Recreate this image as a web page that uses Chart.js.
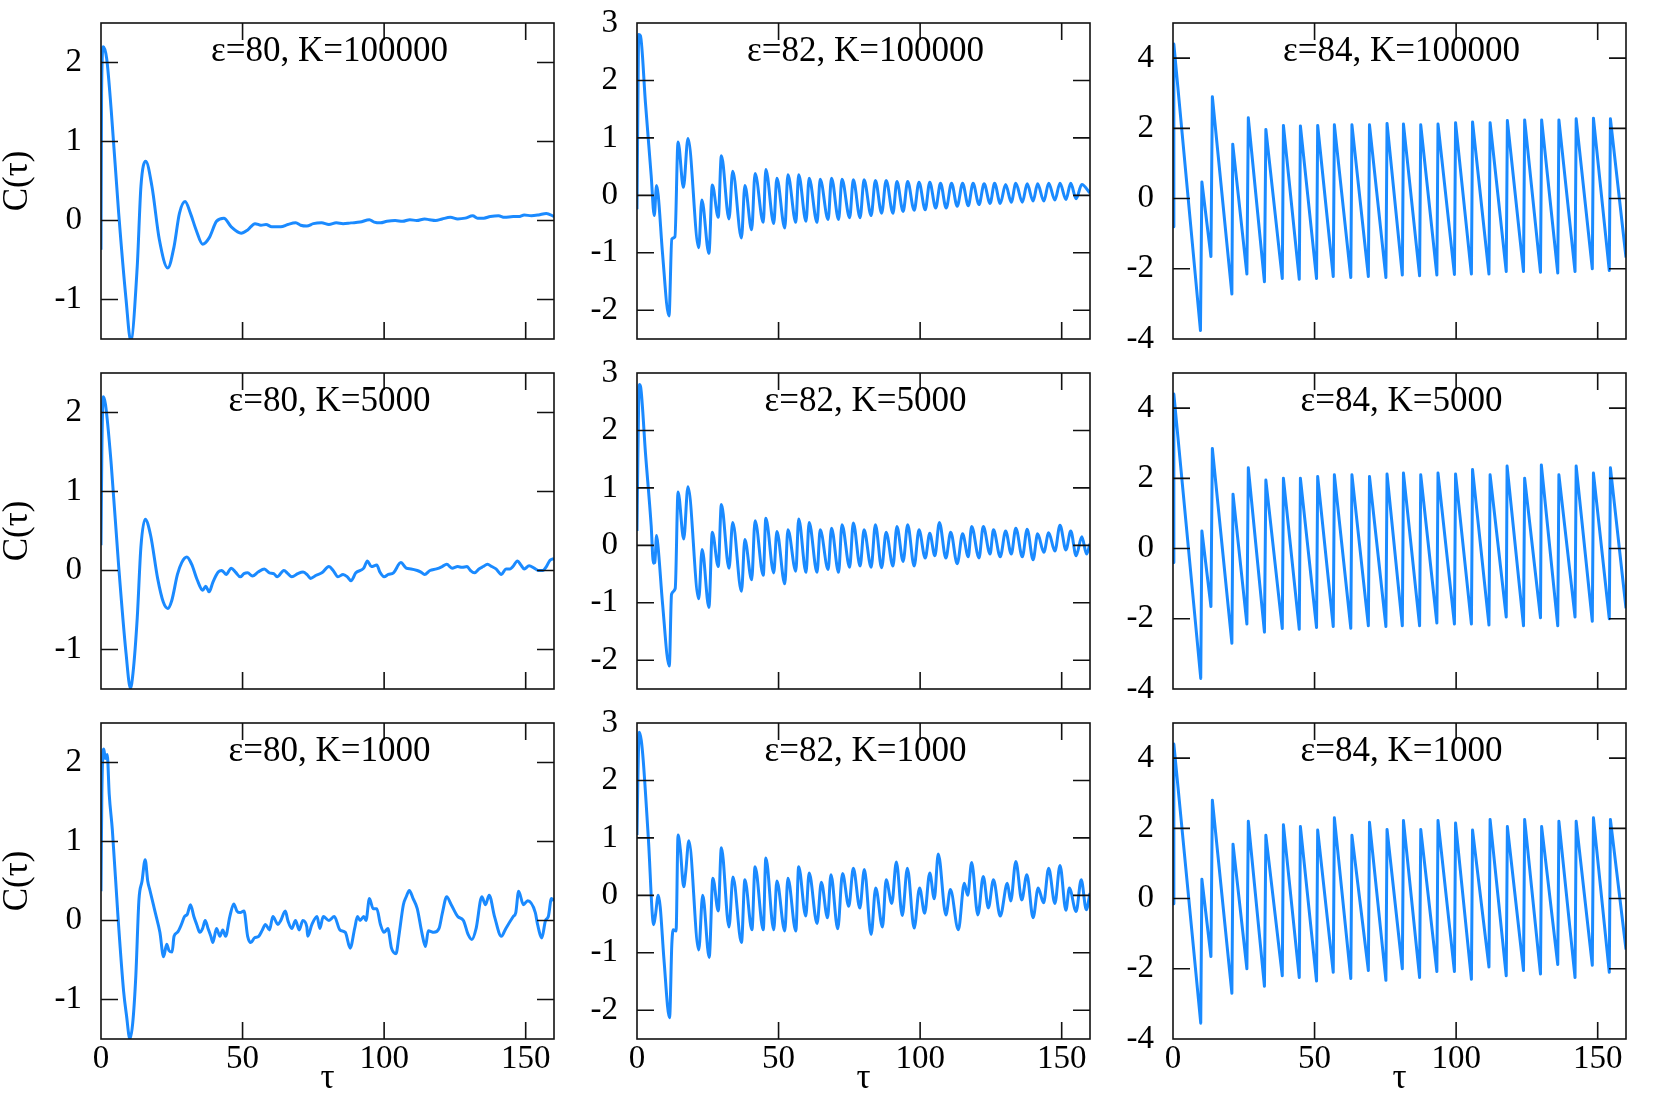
<!DOCTYPE html>
<html><head><meta charset="utf-8">
<script src="https://cdn.jsdelivr.net/npm/chart.js@4/dist/chart.umd.min.js"></script>
<style>
html,body{margin:0;padding:0;background:#fff;}
#wrap{position:relative;width:1661px;height:1107px;overflow:hidden;background:#fff;}
#wrap canvas{position:absolute;}
</style></head><body><div id="wrap"></div>
<script>
// ---------- data ----------
const tauTicks = [0, 50, 100, 150];
const tauRange = [0, 160];
const yTicksE80 = [-1, 0, 1, 2];
const yTicksE82 = [-2, -1, 0, 1, 2, 3];
const yTicksE84 = [-4, -2, 0, 2, 4];
const yRangeE80 = [-1.5, 2.5];
const yRangeE82 = [-2.5, 3];
const yRangeE84 = [-4, 5];
const epsilons = [80, 82, 84];
const Ks = [100000, 5000, 1000];

const e80_K100000 = [[0,-0.37],[0.2,1.6],[0.8,2.2],[2.0,2.05],[3.6,1.4],[6.25,0.09],[8.85,-1.0],[10.5,-1.52],[12.8,-0.58],[14.1,0.43],[15.8,0.75],[18.0,0.43],[20.6,-0.24],[23.6,-0.6],[25.8,-0.33],[27.7,0.09],[29.7,0.24],[31.6,0.09],[33.6,-0.12],[35.9,-0.3],[38.2,-0.22],[40.8,-0.01],[43.4,0.03],[46.0,-0.08],[49.5,-0.16],[51.8,-0.12],[54.4,-0.04],[56.5,-0.06],[58.3,-0.05],[60.3,-0.08],[63.5,-0.08],[66.0,-0.05],[68.8,-0.03],[70.5,-0.06],[72.7,-0.07],[75.0,-0.04],[77.9,-0.03],[80.5,-0.05],[83.1,-0.03],[85.5,-0.04],[88.3,-0.03],[91.5,-0.02],[94.8,0.01],[96.5,-0.02],[98.7,-0.03],[101.0,-0.01],[103.9,0.0],[106.5,-0.01],[109.1,0.01],[111.5,0.0],[114.3,0.02],[116.0,0.01],[118.2,0.0],[120.5,0.02],[123.4,0.04],[126.0,0.02],[128.6,0.03],[131.3,0.06],[133.0,0.03],[135.2,0.03],[137.5,0.05],[140.4,0.06],[142.5,0.04],[145.6,0.05],[147.5,0.05],[149.5,0.07],[152.0,0.06],[154.5,0.07],[157.3,0.09],[160,0.05]];

const e80_K5000 = [[0,0.32],[0.3,1.5],[0.8,2.2],[1.6,2.1],[3.6,1.35],[6.25,0.05],[8.85,-1.05],[10.4,-1.49],[11.3,-1.3],[12.8,-0.6],[14.1,0.3],[15.6,0.65],[17.5,0.45],[20.0,-0.1],[22.0,-0.4],[23.6,-0.48],[25.0,-0.38],[27.0,-0.05],[28.5,0.1],[30.3,0.17],[32.0,0.08],[34.0,-0.12],[35.9,-0.25],[37.0,-0.2],[38.2,-0.27],[39.5,-0.15],[41.4,-0.02],[42.7,0.0],[44.2,-0.05],[46.0,0.03],[47.5,-0.02],[49.2,-0.08],[50.5,-0.04],[51.8,-0.03],[53.5,-0.07],[55.5,-0.02],[57.7,0.02],[59.5,-0.03],[61.0,-0.04],[62.2,-0.08],[64.6,0.0],[66.0,-0.04],[67.4,-0.08],[69.5,-0.04],[71.4,-0.02],[73.0,-0.06],[74.0,-0.1],[76.0,-0.06],[78.0,-0.03],[80.5,0.05],[82.0,0.0],[83.7,-0.08],[85.5,-0.05],[87.0,-0.08],[88.3,-0.13],[90.0,-0.03],[92.8,0.03],[94.1,0.12],[95.5,0.05],[97.4,0.07],[98.5,-0.02],[100.0,-0.08],[101.5,-0.05],[103.3,-0.03],[105.9,0.1],[107.8,0.03],[109.5,0.02],[111.7,0.0],[113.0,-0.02],[114.3,-0.05],[116.2,0.0],[118.5,0.02],[120.5,0.05],[122.1,0.08],[124.0,0.03],[126.0,0.05],[127.5,0.04],[129.3,0.05],[130.5,0.0],[131.9,-0.03],[133.5,0.02],[135.0,0.05],[136.5,0.08],[138.0,0.05],[139.5,0.02],[141.4,-0.05],[143.0,0.02],[144.5,0.02],[145.5,0.05],[147.1,0.12],[148.3,0.07],[149.5,0.02],[151.2,0.06],[153.0,0.03],[154.5,0.0],[156.0,0.0],[157.3,0.05],[158.6,0.13],[160,0.15]];

const e80_K1000 = [[0,0.37],[0.3,1.6],[1.0,2.17],[1.5,2.05],[2.2,2.1],[2.9,1.6],[4.0,1.15],[6.0,0.05],[8.0,-0.9],[9.0,-1.2],[10.2,-1.5],[11.2,-1.3],[12.3,-0.7],[13.4,0.26],[14.5,0.5],[15.6,0.77],[16.5,0.5],[17.3,0.38],[18.5,0.2],[19.3,0.08],[20.8,-0.15],[22.1,-0.46],[23.2,-0.3],[24.0,-0.38],[25.1,-0.4],[25.8,-0.2],[27.0,-0.15],[28.4,-0.05],[29.5,0.05],[30.5,0.08],[31.6,0.2],[32.8,0.05],[33.8,-0.05],[34.9,-0.15],[35.9,-0.1],[36.8,0.0],[37.8,-0.1],[38.8,-0.2],[39.5,-0.28],[40.8,-0.1],[42.0,-0.2],[43.0,-0.12],[44.0,-0.2],[45.5,0.05],[46.9,0.21],[48.0,0.12],[49.2,0.1],[50.5,0.12],[51.8,-0.2],[52.9,-0.28],[54.2,-0.22],[55.7,-0.2],[57.0,-0.12],[58.1,-0.05],[59.5,-0.12],[60.7,0.05],[62.5,-0.05],[63.5,0.0],[65.1,0.12],[66.0,0.0],[67.4,-0.1],[68.7,0.0],[70.0,-0.12],[71.3,0.0],[72.7,-0.08],[73.0,-0.2],[74.5,-0.05],[76.3,0.05],[77.3,-0.1],[78.5,0.05],[80.5,0.0],[82.4,0.05],[84.4,-0.12],[86.3,-0.15],[88.0,-0.35],[89.6,-0.1],[90.6,0.05],[91.5,0.0],[92.8,0.05],[93.6,0.0],[94.8,0.28],[96.1,0.15],[97.4,0.15],[98.7,-0.05],[100.0,-0.15],[101.3,-0.1],[102.6,-0.35],[104.2,-0.42],[105.2,-0.2],[106.8,0.2],[107.8,0.3],[108.9,0.38],[110.2,0.28],[111.7,0.15],[113.3,-0.15],[114.6,-0.33],[115.6,-0.13],[117.6,-0.15],[119.4,-0.1],[120.6,0.1],[122.1,0.3],[123.7,0.2],[126.0,0.05],[128.0,0.0],[129.7,-0.18],[131.0,-0.24],[132.5,-0.1],[134.5,0.3],[135.8,0.2],[137.1,0.32],[139.0,0.05],[141.4,-0.2],[143.0,-0.1],[145.6,0.05],[146.5,0.1],[147.5,0.37],[149.2,0.2],[150.7,0.25],[153.4,0.1],[154.2,-0.05],[155.7,-0.22],[157.0,0.0],[158.0,0.05],[159.1,0.28],[160,0.25]];

const e82_K100000 = [[0,-0.24],[0.3,1.5],[0.6,2.8],[1.2,2.78],[3.0,1.6],[5.0,0.35],[6.1,-0.35],[6.9,0.17],[7.5,0.0],[9.0,-1.0],[11.3,-2.1],[12.3,-0.76],[13.4,-0.72],[14.5,0.93],[16.4,0.14],[18.0,0.99],[21.8,-0.91],[22.9,-0.08],[25.4,-1.01],[26.6,0.18],[28.7,-0.38],[29.8,0.69],[32.5,-0.41],[33.8,0.42],[36.9,-0.74],[38.1,0.17],[40.5,-0.6],[41.7,0.38],[44.6,-0.47],[45.5,0.45],[48.3,-0.49],[49.4,0.3],[52.2,-0.57],[53.3,0.36],[56.1,-0.47],[57.1,0.36],[59.7,-0.45],[60.8,0.3],[63.6,-0.47],[64.7,0.28],[67.5,-0.42],[68.7,0.3],[71.2,-0.42],[72.4,0.28],[75.1,-0.39],[76.4,0.27],[78.8,-0.39],[80.2,0.27],[82.7,-0.35],[84.2,0.26],[86.4,-0.31],[88.0,0.26],[90.4,-0.31],[91.8,0.24],[94.0,-0.28],[95.6,0.24],[97.9,-0.26],[99.6,0.23],[101.8,-0.25],[103.4,0.23],[105.5,-0.22],[107.2,0.21],[109.2,-0.22],[111.1,0.21],[113.1,-0.19],[115.0,0.21],[117.0,-0.18],[118.7,0.21],[120.8,-0.16],[122.6,0.2],[124.7,-0.14],[126.3,0.21],[128.3,-0.14],[130.2,0.19],[132.2,-0.12],[133.8,0.21],[136.1,-0.12],[137.8,0.2],[139.9,-0.1],[141.5,0.2],[143.7,-0.1],[145.4,0.21],[147.6,-0.08],[149.4,0.21],[151.5,-0.07],[153.2,0.21],[155.1,-0.06],[157.1,0.19],[160,0.04]];

const e82_K5000 = [[0,0.25],[0.3,1.5],[0.8,2.8],[1.3,2.75],[3.0,1.6],[5.0,0.35],[5.8,-0.31],[6.3,-0.3],[6.9,0.17],[7.4,0.0],[9.0,-1.0],[11.4,-2.1],[12.2,-0.85],[13.5,-0.75],[14.5,0.93],[16.5,0.11],[18.0,1.02],[21.8,-0.93],[23.0,-0.07],[25.4,-1.08],[26.6,0.23],[28.7,-0.37],[29.8,0.71],[32.5,-0.4],[33.8,0.4],[36.9,-0.8],[38.1,0.1],[40.5,-0.6],[41.7,0.43],[44.6,-0.52],[45.5,0.47],[48.3,-0.48],[49.4,0.24],[52.2,-0.67],[53.3,0.27],[56.1,-0.45],[57.1,0.46],[59.7,-0.47],[60.8,0.4],[63.6,-0.47],[64.7,0.27],[67.5,-0.42],[68.7,0.3],[71.2,-0.47],[72.4,0.36],[75.1,-0.38],[76.4,0.39],[78.8,-0.36],[80.2,0.27],[82.7,-0.38],[84.2,0.36],[86.4,-0.39],[88.0,0.23],[90.4,-0.36],[91.8,0.33],[94.0,-0.28],[95.6,0.36],[97.9,-0.36],[99.6,0.27],[101.8,-0.22],[103.4,0.21],[105.2,-0.18],[106.8,0.4],[109.1,-0.22],[110.8,0.23],[113.1,-0.32],[115.0,0.2],[117.0,-0.2],[118.2,0.33],[120.8,-0.22],[122.3,0.33],[124.7,-0.15],[125.9,0.27],[128.3,-0.2],[130.2,0.25],[132.2,-0.15],[133.8,0.3],[136.1,-0.2],[137.8,0.28],[139.9,-0.25],[141.5,0.2],[143.7,-0.12],[145.4,0.22],[147.6,-0.1],[149.4,0.35],[151.5,-0.08],[153.2,0.25],[155.1,-0.18],[157.1,0.15],[158.8,-0.15],[160,0.03]];

const e82_K1000 = [[0,1.05],[0.3,2.0],[0.8,2.84],[1.5,2.7],[2.2,2.35],[4.0,1.0],[5.9,-0.51],[6.5,-0.35],[7.5,0.0],[8.2,-0.2],[9.5,-1.1],[11.5,-2.13],[12.3,-0.85],[12.8,-0.6],[13.8,-0.62],[14.5,1.05],[15.3,0.8],[16.5,0.15],[17.2,0.4],[18.3,0.95],[21.8,-0.95],[23.2,0.0],[25.5,-1.08],[26.8,0.3],[28.7,-0.27],[29.8,0.83],[32.5,-0.55],[33.9,0.32],[36.9,-0.82],[38.1,0.27],[40.6,-0.6],[41.7,0.5],[44.6,-0.6],[45.5,0.65],[48.3,-0.6],[49.4,0.25],[52.2,-0.62],[53.3,0.3],[56.1,-0.62],[57.1,0.5],[59.6,-0.36],[60.8,0.39],[63.6,-0.49],[65.1,0.23],[67.3,-0.39],[68.5,0.36],[70.9,-0.58],[72.6,0.38],[74.8,-0.19],[76.4,0.47],[78.7,-0.22],[80.3,0.45],[82.7,-0.68],[84.3,0.13],[86.7,-0.55],[88.0,0.27],[90.0,-0.14],[91.6,0.58],[93.7,-0.35],[95.5,0.47],[97.9,-0.57],[99.8,0.13],[101.6,-0.31],[103.4,0.39],[105.0,-0.06],[106.4,0.72],[109.1,-0.34],[110.7,0.1],[113.5,-0.6],[115.6,0.21],[116.8,0.0],[118.2,0.57],[120.4,-0.34],[122.3,0.33],[124.1,-0.22],[125.9,0.27],[128.3,-0.36],[130.8,0.21],[132.0,-0.1],[133.8,0.59],[135.9,-0.08],[137.7,0.36],[139.9,-0.39],[141.7,0.13],[143.6,-0.13],[145.4,0.47],[147.6,-0.14],[149.4,0.52],[151.5,-0.26],[152.7,0.13],[155.1,-0.28],[156.9,0.27],[158.7,-0.25],[160,0.04]];

const e84_K100000 = [[0,-0.8],[0.3,4.4],[9.7,-3.76],[10.2,0.47],[13.4,-1.65],[13.9,2.9],[20.8,-2.72],[21.1,1.55],[26.1,-2.15],[26.6,2.3],[32.3,-2.37],[32.8,1.97],[38.6,-2.28],[39.0,2.08],[44.6,-2.3],[45.0,2.07],[50.7,-2.28],[51.1,2.08],[56.6,-2.22],[57.0,2.1],[62.8,-2.25],[63.2,2.1],[69.0,-2.22],[69.4,2.1],[75.2,-2.25],[75.6,2.14],[81.0,-2.18],[81.4,2.12],[87.1,-2.2],[87.5,2.1],[93.2,-2.18],[93.6,2.12],[99.4,-2.16],[99.8,2.16],[105.4,-2.15],[105.8,2.18],[111.6,-2.15],[112.0,2.16],[117.7,-2.08],[118.1,2.22],[123.8,-2.08],[124.2,2.24],[129.8,-2.1],[130.2,2.24],[135.9,-2.12],[136.3,2.24],[142.0,-2.08],[142.4,2.27],[148.1,-2.0],[148.5,2.29],[154.1,-2.05],[154.5,2.27],[160,-1.68]];

const e84_K5000 = [[0,-0.4],[0.3,4.4],[9.8,-3.7],[10.2,0.5],[13.4,-1.65],[13.9,2.85],[20.8,-2.7],[21.2,1.55],[26.1,-2.15],[26.6,2.3],[32.3,-2.38],[32.8,1.95],[38.6,-2.28],[39.0,2.0],[44.6,-2.3],[45.0,2.0],[50.7,-2.25],[51.1,2.05],[56.6,-2.22],[57.0,2.1],[62.8,-2.27],[63.2,2.1],[69.0,-2.2],[69.4,2.05],[75.2,-2.22],[75.6,2.12],[81.0,-2.2],[81.4,2.15],[87.1,-2.2],[87.5,2.1],[93.2,-2.12],[93.6,2.15],[99.4,-2.15],[99.8,2.12],[105.4,-2.15],[105.8,2.25],[111.6,-2.18],[112.0,2.1],[117.7,-1.95],[118.0,2.35],[123.8,-2.2],[124.2,2.0],[129.8,-1.97],[130.1,2.38],[135.9,-2.2],[136.3,2.1],[142.0,-1.95],[142.4,2.35],[148.1,-2.07],[148.5,2.15],[154.1,-2.0],[154.5,2.3],[160,-1.7]];

const e84_K1000 = [[0,-0.15],[0.3,4.4],[9.8,-3.55],[10.2,0.55],[13.4,-1.65],[13.9,2.8],[20.8,-2.7],[21.2,1.55],[26.1,-2.0],[26.6,2.2],[32.3,-2.5],[32.8,1.8],[38.6,-2.2],[39.0,2.1],[44.6,-2.25],[45.0,2.05],[50.7,-2.35],[51.1,1.95],[56.6,-2.1],[57.0,2.3],[62.8,-2.28],[63.2,1.8],[69.0,-2.05],[69.4,2.17],[75.2,-2.33],[75.6,1.97],[81.0,-2.0],[81.4,2.22],[87.1,-2.25],[87.5,1.97],[93.2,-2.08],[93.6,2.22],[99.4,-2.08],[99.8,2.15],[105.4,-2.3],[105.8,1.95],[111.6,-1.95],[112.0,2.25],[117.7,-2.2],[118.1,2.05],[123.8,-2.05],[124.2,2.25],[129.8,-2.15],[130.2,2.05],[135.9,-1.88],[136.3,2.2],[142.0,-2.25],[142.4,2.2],[148.1,-1.9],[148.5,2.3],[154.1,-2.1],[154.5,2.25],[160,-1.45]];

// ---------- layout ----------
const series = [
  [e80_K100000, e82_K100000, e84_K100000],
  [e80_K5000,   e82_K5000,   e84_K5000],
  [e80_K1000,   e82_K1000,   e84_K1000]
];
const yTicksByCol = [yTicksE80, yTicksE82, yTicksE84];
const yRangeByCol = [yRangeE80, yRangeE82, yRangeE84];

const colLeft = [101, 637, 1173];
const rowTop = [23, 373, 723];
const PW = 453, PH = 316;
const ML = 100, MT = 23, MR = 40, MB = 80;
const FONT = "'Liberation Serif','Times New Roman',serif";
const LINE = '#1a8aff';

Chart.defaults.font.family = FONT;

const framePlugin = {
  id: 'frame',
  afterDraw(chart, args, o) {
    const ctx = chart.ctx, a = chart.chartArea;
    const xs = chart.scales.x, ys = chart.scales.y;
    const TL = 17;
    ctx.save();
    ctx.strokeStyle = '#111';
    ctx.lineWidth = 1.6;
    ctx.beginPath();
    for (const t of ys.ticks) {
      const p = ys.getPixelForValue(t.value);
      if (p <= a.top + 1 || p >= a.bottom - 1) continue;
      ctx.moveTo(a.left, p); ctx.lineTo(a.left + TL, p);
      ctx.moveTo(a.right, p); ctx.lineTo(a.right - TL, p);
    }
    for (const t of xs.ticks) {
      const p = xs.getPixelForValue(t.value);
      if (p <= a.left + 1 || p >= a.right - 1) continue;
      ctx.moveTo(p, a.top); ctx.lineTo(p, a.top + TL);
      ctx.moveTo(p, a.bottom); ctx.lineTo(p, a.bottom - TL);
    }
    ctx.stroke();
    ctx.strokeRect(a.left, a.top, a.right - a.left, a.bottom - a.top);
    ctx.fillStyle = '#000';
    ctx.textAlign = 'center';
    ctx.textBaseline = 'alphabetic';
    ctx.font = '35px ' + FONT;
    ctx.fillText(o.title, (a.left + a.right) / 2 + 2, a.top + 38);
    if (o.tau) ctx.fillText(o.tau, (a.left + a.right) / 2, a.bottom + 49);
    if (o.ylab) {
      ctx.translate(26, (a.top + a.bottom) / 2);
      ctx.rotate(-Math.PI / 2);
      ctx.fillText(o.ylab, 0, 0);
    }
    ctx.restore();
  }
};

const wrap = document.getElementById('wrap');
for (let r = 0; r < 3; r++) {
  for (let c = 0; c < 3; c++) {
    const cv = document.createElement('canvas');
    const cw = ML + PW + MR, ch = MT + PH + MB;
    cv.width = cw; cv.height = ch;
    cv.style.width = cw + 'px'; cv.style.height = ch + 'px';
    cv.style.left = (colLeft[c] - ML) + 'px';
    cv.style.top = (rowTop[r] - MT) + 'px';
    wrap.appendChild(cv);
    const yt = yTicksByCol[c], yr = yRangeByCol[c];
    new Chart(cv, {
      type: 'line',
      data: {
        datasets: [{
          data: series[r][c].map(p => ({x: p[0], y: p[1]})),
          borderColor: LINE,
          borderWidth: 3,
          pointRadius: 0,
          fill: false,
          tension: 0,
          cubicInterpolationMode: c < 2 ? 'monotone' : 'default',
          borderJoinStyle: 'round'
        }]
      },
      options: {
        responsive: false,
        animation: false,
        layout: {padding: {left: 0, top: MT, right: MR, bottom: 0}},
        plugins: {
          legend: {display: false},
          tooltip: {enabled: false},
          frame: {
            title: 'ε=' + epsilons[c] + ', K=' + Ks[r],
            tau: r === 2 ? 'τ' : '',
            ylab: c === 0 ? 'C(τ)' : ''
          }
        },
        scales: {
          x: {
            type: 'linear', min: tauRange[0], max: tauRange[1],
            grid: {display: false, drawTicks: false},
            border: {display: false},
            ticks: {display: r === 2, color: '#000', font: {size: 33, family: FONT}, padding: 1, maxRotation: 0, autoSkip: false},
            afterBuildTicks: s => { s.ticks = tauTicks.map(v => ({value: v})); },
            afterFit: s => { s.height = MB; s.paddingLeft = 0; s.paddingRight = 0; }
          },
          y: {
            type: 'linear', min: yr[0], max: yr[1],
            grid: {display: false, drawTicks: false},
            border: {display: false},
            ticks: {color: '#000', font: {size: 33, family: FONT}, padding: 19},
            afterBuildTicks: s => { s.ticks = yt.map(v => ({value: v})); },
            afterFit: s => { s.width = ML; s.paddingTop = 0; s.paddingBottom = 0; }
          }
        }
      },
      plugins: [framePlugin]
    });
  }
}
</script>
</body></html>
